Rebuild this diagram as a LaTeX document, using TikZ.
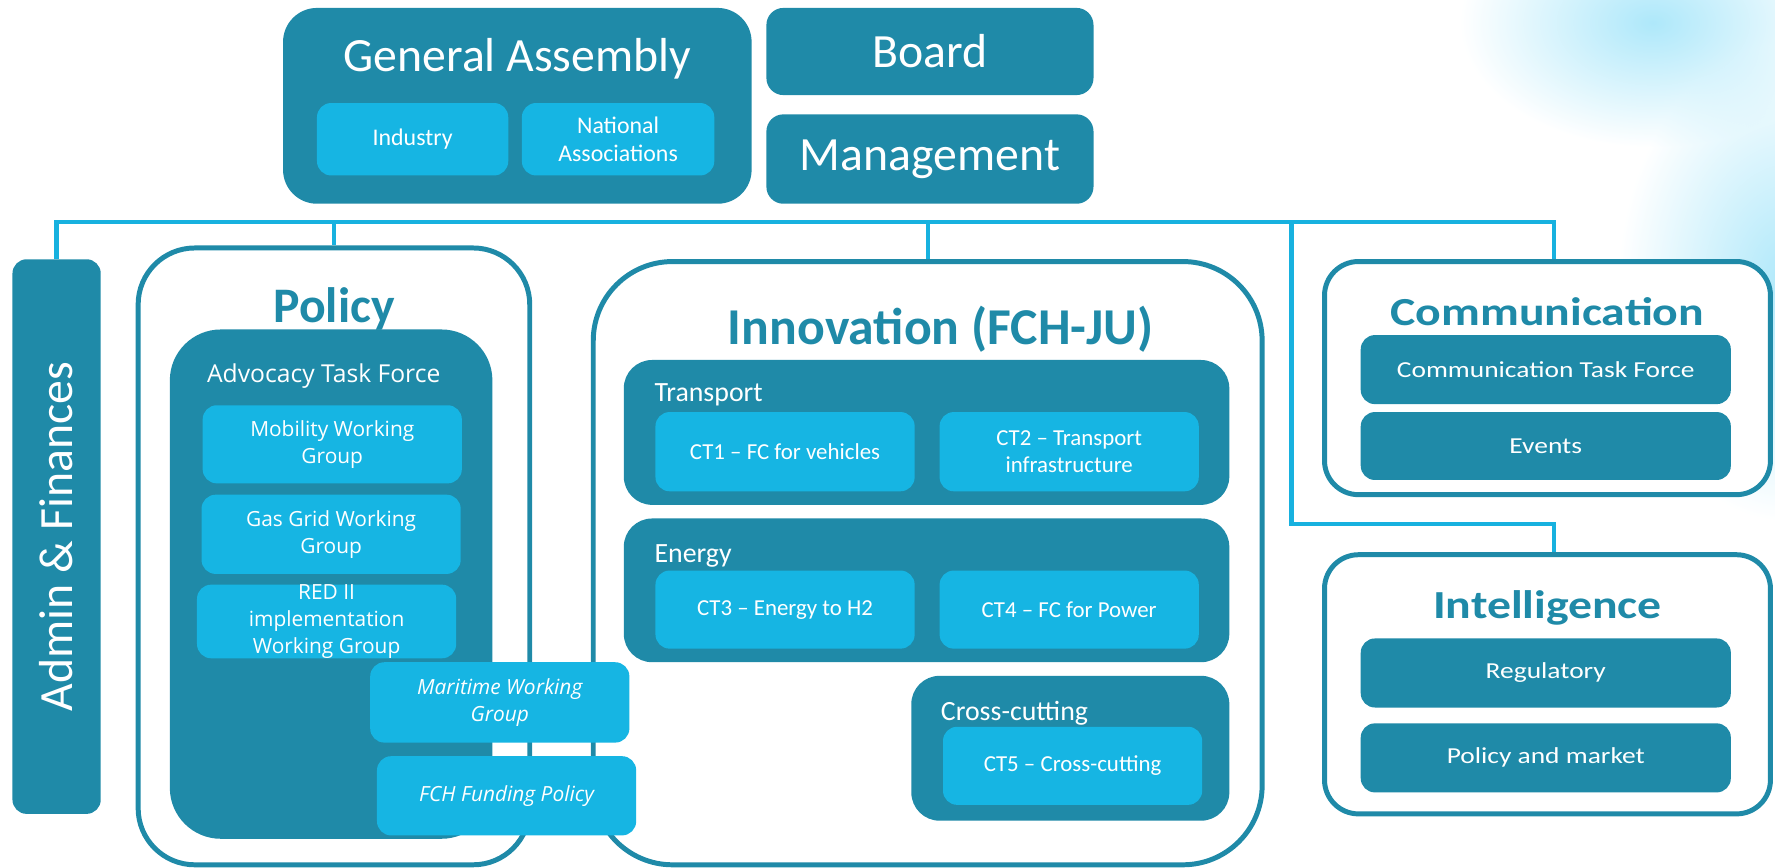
\documentclass[tikz,border=0pt]{standalone}
\usepackage{fontspec}
\setmainfont{Carlito}
\newfontfamily\widefont[FakeStretch=1.2]{Carlito}
\newfontfamily\wgfont{Open Sans}
\usetikzlibrary{positioning, fadings}
\definecolor{tealdark}{HTML}{1F8AA8}
\definecolor{cyanlight}{HTML}{16B5E3}
\definecolor{wireblue}{HTML}{17B1DF}
\definecolor{blob}{HTML}{AEE8FA}
\tikzfading[name=softblob, inner color=transparent!0, outer color=transparent!100]

\begin{document}
\begin{tikzpicture}
	[x=0.02cm, y=-0.02cm,%
	dark/.style ={rectangle,	fill=tealdark,	text=white,	rounded corners=0.5cm,	inner sep=0pt,	align=center},%
	light/.style={rectangle,	fill=cyanlight,	text=white,	rounded corners=0.25cm,	inner sep=0pt,	align=center,	minimum width=4.58cm,	minimum height=1.4cm},%
	frame/.style={rectangle,	draw=tealdark,	fill=white,	line width=2.5pt,	inner sep=0pt},%
	strip/.style={dark,	rounded corners=0.25cm,	minimum width=6.54cm,	minimum height=1.22cm,	font=\widefont\fontsize{11.5}{14}\selectfont},%
	head/.style ={text=tealdark,	font=\bfseries\fontsize{25}{30}\selectfont},%
	big/.style  ={font=\fontsize{24}{28}\selectfont},%
	small/.style={font=\fontsize{12}{14}\selectfont},%
	ct/.style   ={font=\fontsize{11.5}{14}\selectfont},%
	wg/.style   ={font=\wgfont\fontsize{10.5}{13.5}\selectfont},%
	group/.style={text=white,	anchor=west,	font=\fontsize{14}{16}\selectfont},%
	wire/.style ={draw=wireblue,	line width=2.2pt},%
	]

	\useasboundingbox (0,0) rectangle (1568,766);

	% background
	\begin{scope}
		\clip (0,0) rectangle (1568,766);
		\fill [blob, path fading=softblob] (1460,20) ellipse (170 and 110);
		\fill [blob, path fading=softblob] (1580,250) ellipse (150 and 210);
	\end{scope}

	% top row
	\node (ga) at (457,93.5) [dark, rounded corners=0.6cm, minimum width=8.28cm, minimum height=3.46cm] {};
	\node (gatitle) at (457,52) [text=white, big] {General Assembly};
	\node (industry) at (364.5,123) [light, small, minimum width=3.38cm, minimum height=1.28cm] {Industry};
	\node (natassoc) at (546,123) [light, small, minimum width=3.4cm, minimum height=1.28cm] {National\\Associations};

	\node (board) at (821.5,45.5) [dark, big, rounded corners=0.3cm, minimum width=5.78cm, minimum height=1.54cm] {Board};
	\node (mgmt) at (821.5,140.5) [dark, big, rounded corners=0.3cm, minimum width=5.78cm, minimum height=1.58cm] {Management};

	% admin
	\node (admin) at (50,474) [dark, rounded corners=0.25cm, minimum width=1.56cm, minimum height=9.8cm] {};
	\node (admintext) at (admin.center) [rotate=90, text=white, font=\fontsize{24}{28}\selectfont] {Admin \& Finances};

	% innovation
	\node (innov) at (819.5,497.5) [frame, rounded corners=1.4cm, minimum width=11.82cm, minimum height=10.66cm] {};
	\node (innovtitle) at (831,291) [head, font=\bfseries\fontsize{26}{30}\selectfont] {Innovation (FCH-JU)};

	\node (transport) at (818.5,382) [dark, minimum width=10.7cm, minimum height=2.56cm] {};
	\node (transportlbl) at (572,349) [group] {Transport};
	\node (ct1) at (693.5,399) [light, ct] {CT1 -- FC for vehicles};
	\node (ct2) at (944.5,399) [light, ct] {CT2 -- Transport\\infrastructure};

	\node (energy) at (818.5,521.5) [dark, minimum width=10.7cm, minimum height=2.54cm] {};
	\node (energylbl) at (572,491) [group] {Energy};
	\node (ct3) at (693.5,538.5) [light, ct, minimum height=1.38cm] {CT3 -- Energy to H2};
	\node (ct4) at (944.5,538.5) [light, ct, minimum height=1.38cm] {CT4 -- FC for Power};

	\node (cross) at (945.5,661) [dark, minimum width=5.62cm, minimum height=2.56cm] {};
	\node (crosslbl) at (825,630) [group] {Cross-cutting};
	\node (ct5) at (947.5,676.5) [light, ct, minimum height=1.38cm] {CT5 -- Cross-cutting};

	% policy
	\node (policy) at (295,491.5) [frame, rounded corners=1cm, minimum width=6.92cm, minimum height=10.9cm] {};
	\node (policytitle) at (295,273) [head] {Policy};

	\node (advocacy) at (292.5,516) [dark, rounded corners=0.9cm, minimum width=5.7cm, minimum height=9cm] {};
	\node (advocacylbl) at (286,332) [text=white, font=\wgfont\fontsize{12.4}{14}\selectfont] {Advocacy Task Force};
	\node (mobility) at (293.5,392.5) [light, wg, minimum height=1.38cm] {Mobility Working\\Group};
	\node (gasgrid) at (292.5,472) [light, wg] {Gas Grid Working\\Group};
	\node (red) at (288.5,549) [light, wg, minimum height=1.28cm] {RED II\\implementation\\Working Group};
	\node (maritime) at (441.5,620.5) [light, wg, font=\wgfont\itshape\fontsize{10.5}{13.5}\selectfont, minimum height=1.42cm] {Maritime Working\\Group};
	\node (funding) at (447.5,703) [light, wg, font=\wgfont\itshape\fontsize{10.5}{13.5}\selectfont] {FCH Funding Policy};

	% communication
	\node (comm) at (1367,334) [frame, rounded corners=0.6cm, minimum width=7.88cm, minimum height=4.12cm] {};
	\node (commtitle) at (1367,275) [head, font=\widefont\bfseries\fontsize{20}{24}\selectfont] {Communication};
	\node (ctf) at (1365.5,326.5) [strip] {Communication Task Force};
	\node (events) at (1365.5,394) [strip, minimum height=1.2cm] {Events};

	% intelligence
	\node (intel) at (1367,604.5) [frame, rounded corners=0.6cm, minimum width=7.88cm, minimum height=4.58cm] {};
	\node (inteltitle) at (1367,537) [head, font=\widefont\bfseries\fontsize{20}{24}\selectfont] {Intelligence};
	\node (regul) at (1365.5,594.5) [strip] {Regulatory};
	\node (polmkt) at (1365.5,669.5) [strip] {Policy and market};

	% connectors
	\coordinate (busL) at (50,196);
	\coordinate (busR) at (1373,196);
	\coordinate (busI) at (1141,196);
	\coordinate (elbow) at (1141,463);

	\draw [wire] (admin.north) -- (busL) -- (busR) -- (busR |- comm.north);
	\draw [wire] (busL -| policy.north) -- (policy.north);
	\draw [wire] (busL -| innov.north) -- (innov.north);
	\draw [wire] (busI) -- (elbow) -| (busR |- intel.north);

\end{tikzpicture}
\end{document}
